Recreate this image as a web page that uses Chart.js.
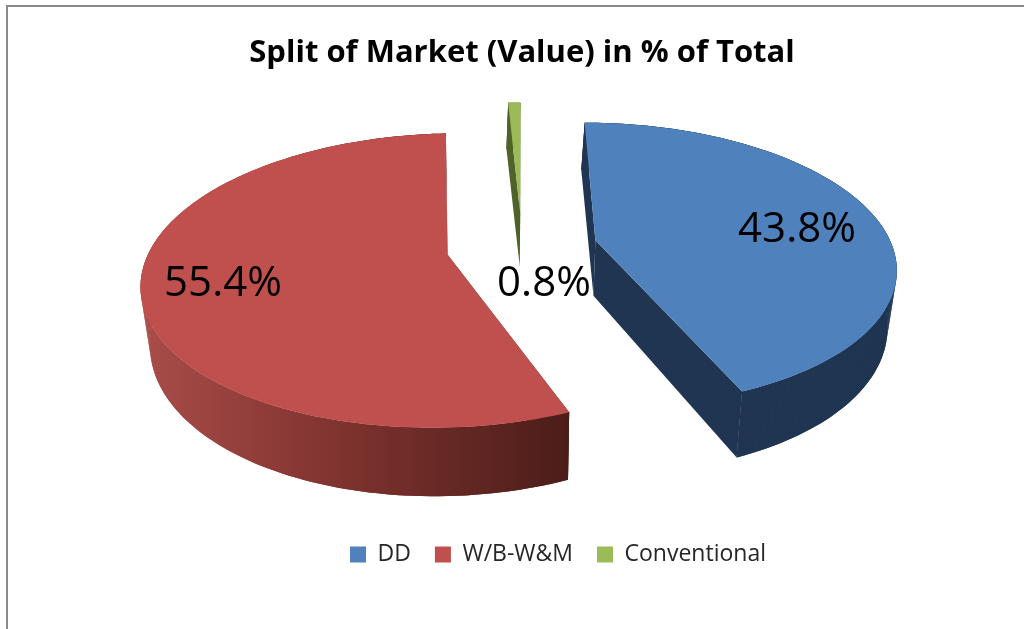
<!DOCTYPE html>
<html>
<head>
<meta charset="utf-8">
<title>Split of Market</title>
<script src="https://cdn.jsdelivr.net/npm/chart.js@4"></script>
<style>
  html, body { margin: 0; padding: 0; background: #fff; overflow: hidden; }
  #marco { position: absolute; left: 6px; top: 5px; width: 1100px; height: 700px; border: 2px solid #8a8a8a; }
  #grafico { position: absolute; left: 0; top: 0; }
</style>
</head>
<body>
<div id="marco"></div>
<canvas id="grafico" width="1024" height="629"></canvas>
<script>
const categorias = ['DD', 'W/B-W&M', 'Conventional'];
const valores = [43.8, 55.4, 0.8];
const colores = ['#4f81bd', '#c0504d', '#9bbb59'];
const etiquetas = ['43.8%', '55.4%', '0.8%'];

// perspective of the pie plane, fitted to the reference
const vista = { xc: 522, yc: 247, ax: 297, bx: 0, ay: 140, p: -0.173, separacion: 0.254, grosor: 56, fondo: 0.975, ladeo: 2 };

function proyectar(u, v, abajo) {
    const w = 1 + vista.p * v;
    if (!abajo) {
        return { x: vista.xc + (vista.ax * u + vista.bx * v) / w, y: vista.yc + vista.ay * v / w };
    }
    return {
        x: vista.xc + (vista.fondo * (vista.ax * u + vista.bx * v) + vista.ladeo * Math.min(v, 0)) / w,
        y: vista.yc + (vista.ay * v + vista.grosor) / w
    };
}

// outline of one slice, angles come from the arc element
function contorno(arco, abajo) {
    const a0 = arco.startAngle + Math.PI / 2;
    const a1 = arco.endAngle + Math.PI / 2;
    const medio = (a0 + a1) / 2;
    const cu = vista.separacion * Math.sin(medio);
    const cv = -vista.separacion * Math.cos(medio);
    const puntos = [proyectar(cu, cv, abajo)];
    const pasos = Math.max(6, Math.round((a1 - a0) * 40));
    for (let i = 0; i <= pasos; i++) {
        const a = a0 + (a1 - a0) * i / pasos;
        puntos.push(proyectar(cu + Math.sin(a), cv - Math.cos(a), abajo));
    }
    return puntos;
}

function relleno(ctx, puntos, color) {
    ctx.beginPath();
    puntos.forEach((p, i) => i ? ctx.lineTo(p.x, p.y) : ctx.moveTo(p.x, p.y));
    ctx.closePath();
    ctx.fillStyle = color;
    ctx.fill();
}

const pastel3d = {
    id: 'pastel3d',
    afterLayout(chart) {
        // legend sits right of the title in the reference
        const leg = chart.legend;
        leg.left += 36;
        leg.right += 36;
    },
    beforeDatasetDraw(chart, args, opts) {
        const ctx = chart.ctx;
        const gradRojo = ctx.createLinearGradient(145, 0, 570, 0);
        gradRojo.addColorStop(0, '#a84c49');
        gradRojo.addColorStop(0.45, '#80332f');
        gradRojo.addColorStop(1, '#4b1d19');
        const paredes = ['#1f3552', gradRojo, '#4f6228'];

        args.meta.data.forEach((arco, i) => {
            const arriba = contorno(arco, false);
            const abajo = contorno(arco, true);
            const n = arriba.length - 1;
            // the two cut faces, then the curved wall
            relleno(ctx, [arriba[0], arriba[1], abajo[1], abajo[0]], paredes[i]);
            relleno(ctx, [arriba[0], arriba[n], abajo[n], abajo[0]], paredes[i]);
            relleno(ctx, arriba.slice(1).concat(abajo.slice(1).reverse()), paredes[i]);
            // quads on top of the band fill the silhouette where the wall folds
            for (let k = 1; k < n; k++) {
                relleno(ctx, [arriba[k], arriba[k + 1], abajo[k + 1], abajo[k]], paredes[i]);
            }
            relleno(ctx, arriba, colores[i]);
        });
        return false;
    },
    afterDatasetsDraw(chart, args, opts) {
        const ctx = chart.ctx;
        ctx.save();
        ctx.fillStyle = '#000';
        ctx.font = opts.fuente;
        ctx.textAlign = 'center';
        ctx.textBaseline = 'middle';
        etiquetas.forEach((t, i) => ctx.fillText(t, opts.lugares[i][0], opts.lugares[i][1]));
        ctx.restore();
    }
};

new Chart(document.getElementById('grafico'), {
    type: 'pie',
    data: {
        labels: categorias,
        datasets: [{ data: valores, backgroundColor: colores, borderWidth: 0 }]
    },
    options: {
        responsive: false,
        animation: false,
        layout: { padding: { left: 20, top: 35, bottom: 53 } },
        plugins: {
            title: {
                display: true,
                text: 'Split of Market (Value) in % of Total',
                color: '#000',
                font: { family: 'Open Sans', size: 31, weight: 'bold' },
                padding: 0
            },
            legend: {
                position: 'bottom',
                labels: {
                    color: '#262626',
                    boxWidth: 16,
                    boxHeight: 16,
                    padding: 24,
                    font: { family: 'Open Sans', size: 23 }
                }
            },
            tooltip: { enabled: false },
            pastel3d: {
                fuente: '42px "Open Sans"',
                lugares: [[797, 230], [223, 284], [544, 284]]
            }
        }
    },
    plugins: [pastel3d]
});
</script>
</body>
</html>
